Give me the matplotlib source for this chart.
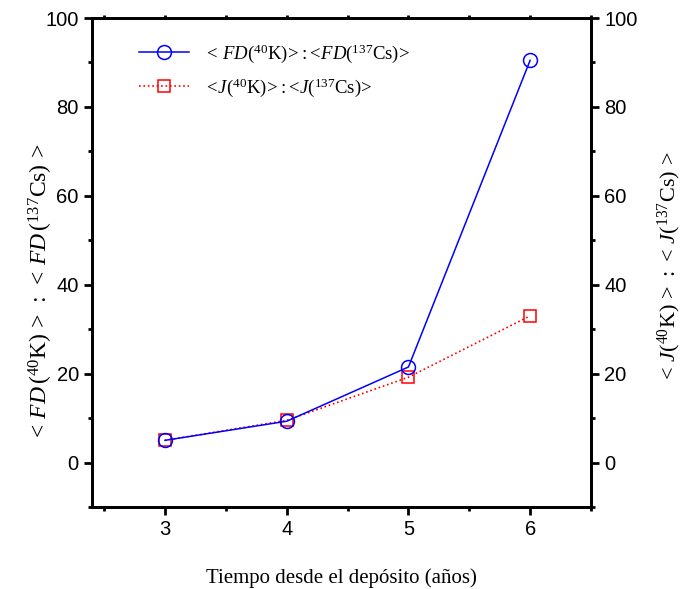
import matplotlib.pyplot as plt
from matplotlib.ticker import MultipleLocator

plt.rcParams['font.family'] = 'Liberation Sans'
plt.rcParams['mathtext.fontset'] = 'custom'
plt.rcParams['mathtext.rm'] = 'Liberation Serif'
plt.rcParams['mathtext.it'] = 'Liberation Serif:italic'

years = [3, 4, 5, 6]
fd_ratio = [5.0, 9.3, 21.5, 90.5]
j_ratio = [5.0, 9.5, 19.2, 33.0]

fd_label = r'$<\,FD(^{40}\mathrm{K})\!>\!:\!<\!FD(^{137}\mathrm{Cs})\!>$'
j_label = r'$<\!J(^{40}\mathrm{K})\!>\!:\!<\!J(^{137}\mathrm{Cs})\!>$'

fig = plt.figure(figsize=(6.83, 5.89), dpi=100)
ax = fig.add_axes([0.1347, 0.1392, 0.7306, 0.8302])

ax.plot(years, j_ratio, ':', color='red', lw=1.2, marker='s', ms=8,
        mfc='none', mec='red', mew=1.1, label=j_label, zorder=2)
ax.plot(years, fd_ratio, '-', color='blue', lw=1.1, marker='o', ms=10,
        mfc='none', mec='blue', mew=1.1, label=fd_label, zorder=3)

ax.set_xlim(2.4, 6.5)
ax.set_ylim(-10, 100)
ax.xaxis.set_major_locator(MultipleLocator(1))
ax.xaxis.set_minor_locator(MultipleLocator(0.5))
ax.yaxis.set_major_locator(MultipleLocator(20))
ax.yaxis.set_minor_locator(MultipleLocator(10))

for s in ax.spines.values():
    s.set_linewidth(2.0)

ax.tick_params(axis='both', which='major', labelsize=14.5, width=2.0, length=6,
               direction='out')
ax.tick_params(axis='both', which='minor', width=2.0, length=3, direction='out')
ax.tick_params(axis='x', top=True, which='both')
ax.tick_params(axis='x', which='major', pad=3)

ax2 = ax.twinx()
ax2.set_ylim(ax.get_ylim())
ax2.yaxis.set_major_locator(MultipleLocator(20))
ax2.yaxis.set_minor_locator(MultipleLocator(10))
ax2.tick_params(axis='y', which='major', labelsize=14.5, width=2.0, length=6,
                direction='out')
ax2.tick_params(axis='y', which='minor', width=2.0, length=3, direction='out')
for s in ax2.spines.values():
    s.set_linewidth(2.0)

# top ticks are tiny in the reference
for t in ax.xaxis.get_major_ticks() + ax.xaxis.get_minor_ticks():
    t.tick2line.set_markersize(2)

ax.set_xlabel('Tiempo desde el depósito (años)', family='Liberation Serif',
              fontsize=15)
ax.xaxis.set_label_coords(0.5, -0.125)
ax.set_ylabel(r'$<\,FD\,(^{40}\mathrm{K})\,>\;:\;<\,FD\,(^{137}\mathrm{Cs})\,>$',
              fontsize=17)
ax.yaxis.set_label_coords(-0.075, 0.44)
ax2.set_ylabel(r'$<\,J(^{40}\mathrm{K})\,>\,:\,<\,J(^{137}\mathrm{Cs})\,>$',
               fontsize=16, rotation=90)
ax2.yaxis.set_label_coords(1.13, 0.49)

h, l = ax.get_legend_handles_labels()
ax.legend(h[::-1], l[::-1], loc='upper left', bbox_to_anchor=(0.06, 0.985),
          frameon=False, fontsize=13.5, handlelength=2.7, labelspacing=0.6)

fig.savefig('out.png', dpi=100)
